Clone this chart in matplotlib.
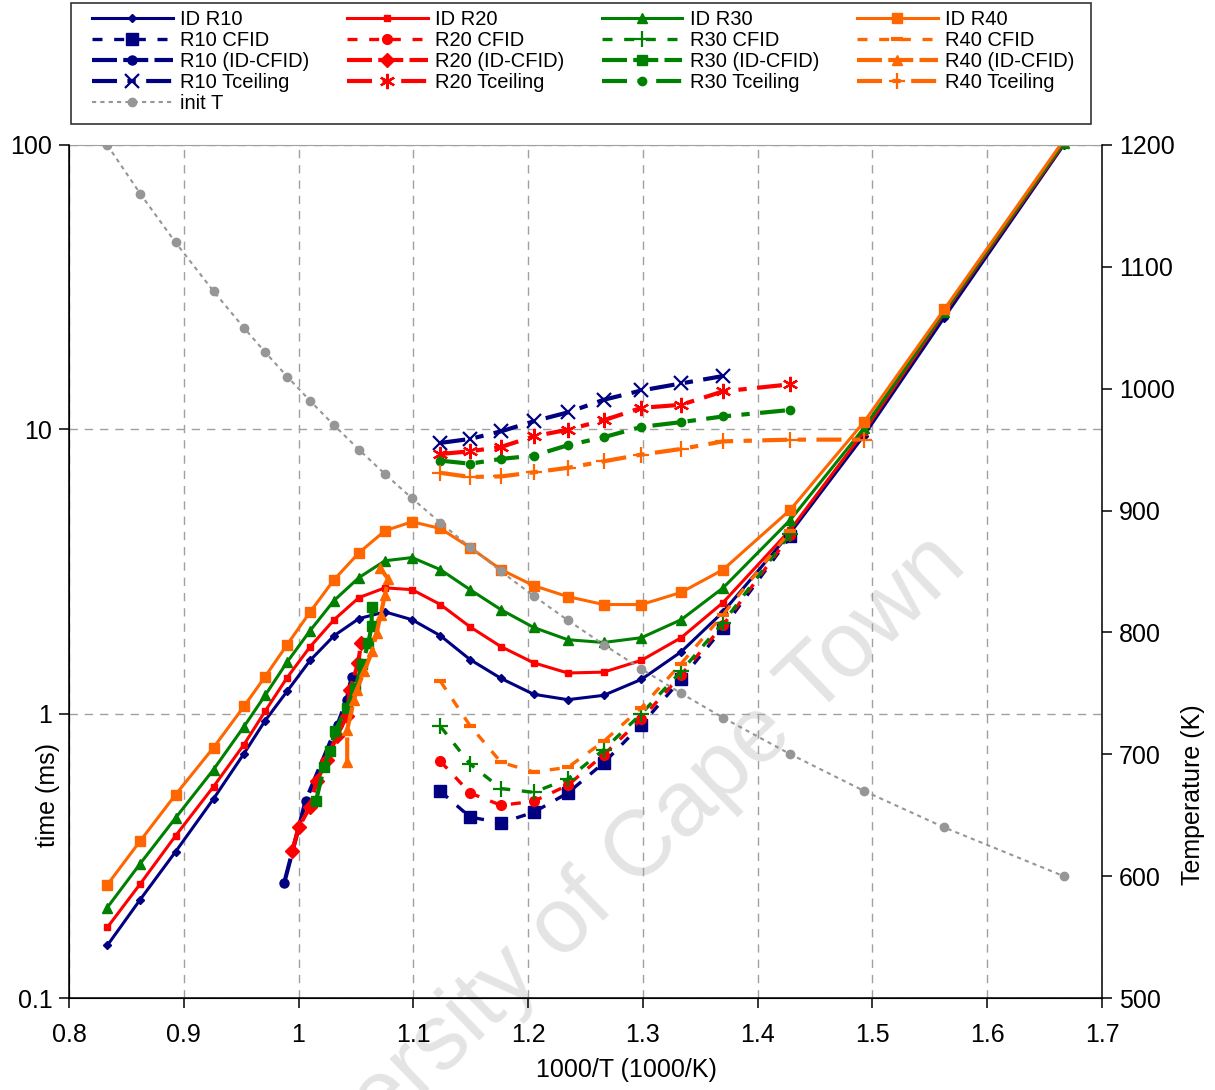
import matplotlib
matplotlib.use('Agg')
import numpy as np
from matplotlib import pyplot as plt
from matplotlib.patches import Rectangle

plt.rcParams['font.family'] = ['Liberation Sans', 'DejaVu Sans']

# temperature grid (K) used for the ID curves and init T
temps = [1200, 1160, 1120, 1080, 1050, 1030, 1010, 990, 970, 950, 930, 910, 890,
         870, 850, 830, 810, 790, 770, 750, 730, 700, 670, 640, 600]

id_r10 = [0.153, 0.222, 0.327, 0.502, 0.723, 0.945, 1.20, 1.54, 1.88, 2.16, 2.28, 2.14, 1.88,
          1.55, 1.33, 1.17, 1.12, 1.16, 1.32, 1.65, 2.28, 4.33, 9.5, 24.7, 100]
id_r20 = [0.177, 0.252, 0.372, 0.554, 0.778, 1.02, 1.34, 1.72, 2.14, 2.56, 2.77, 2.73, 2.42,
          2.02, 1.72, 1.51, 1.39, 1.40, 1.54, 1.85, 2.46, 4.44, 9.8, 25.6, 101]
id_r30 = [0.208, 0.297, 0.43, 0.636, 0.90, 1.16, 1.52, 1.96, 2.50, 3.01, 3.45, 3.54, 3.21,
          2.73, 2.32, 2.01, 1.82, 1.78, 1.85, 2.14, 2.77, 4.81, 10.1, 25.9, 102]
id_r40 = [0.25, 0.357, 0.519, 0.76, 1.06, 1.35, 1.75, 2.28, 2.96, 3.68, 4.40, 4.73, 4.48,
          3.84, 3.21, 2.82, 2.58, 2.42, 2.42, 2.67, 3.21, 5.22, 10.6, 26.4, 104]

# CFID
temps_cfid = [890, 870, 850, 830, 810, 790, 770, 750, 730, 700]
cfid_r10 = [0.533, 0.433, 0.413, 0.45, 0.526, 0.671, 0.915, 1.32, 2.0, 4.2]
cfid_r20 = [0.68, 0.526, 0.476, 0.492, 0.56, 0.717, 0.958, 1.37, 2.05, 4.25]
cfid_r30 = [0.902, 0.665, 0.545, 0.529, 0.589, 0.747, 1.0, 1.41, 2.09, 4.3]
cfid_r40 = [1.30, 0.907, 0.674, 0.624, 0.647, 0.799, 1.05, 1.50, 2.23, 4.4]

# ID-CFID (x given directly as 1000/T)
idc_x_r10 = [0.9875, 1.0062, 1.034, 1.042, 1.0463]
idc_r10 = [0.254, 0.494, 0.915, 1.12, 1.35]
idc_x_r20 = [0.9945, 1.0003, 1.0099, 1.0157, 1.0245, 1.0332, 1.0419, 1.0447, 1.052, 1.0544]
idc_r20 = [0.33, 0.40, 0.47, 0.578, 0.685, 0.832, 0.978, 1.21, 1.51, 1.77]
idc_x_r30 = [1.0152, 1.0221, 1.0274, 1.0317, 1.0419, 1.0491, 1.0555, 1.0607, 1.0637, 1.0637]
idc_r30 = [0.494, 0.647, 0.741, 0.867, 1.05, 1.23, 1.49, 1.77, 2.03, 2.38]
idc_x_r40 = [1.0424, 1.0424, 1.0483, 1.0506, 1.0572, 1.0642, 1.068, 1.0715, 1.0753, 1.0781, 1.0709]
idc_r40 = [0.674, 0.878, 1.12, 1.21, 1.41, 1.66, 1.92, 2.23, 2.62, 2.98, 3.25]

# Tceiling
temps_tc10 = [890, 870, 850, 830, 810, 790, 770, 750, 730]
temps_tc = [890, 870, 850, 830, 810, 790, 770, 750, 730, 700]
temps_tc40 = [890, 870, 850, 830, 810, 790, 770, 750, 730, 700, 670]
tc_r10 = [8.96, 9.25, 9.84, 10.67, 11.47, 12.7, 13.7, 14.5, 15.4]
tc_r20 = [8.19, 8.37, 8.67, 9.45, 9.97, 10.76, 11.9, 12.2, 13.6, 14.4]
tc_r30 = [7.76, 7.57, 7.87, 8.08, 8.79, 9.38, 10.2, 10.6, 11.1, 11.7]
tc_r40 = [7.03, 6.80, 6.83, 7.06, 7.32, 7.72, 8.15, 8.53, 9.07, 9.20, 9.2]


def inv(t):
    return 1000.0 / np.array(t, dtype=float)


NAVY = '#000080'
RED = '#FF0000'
GREEN = '#008000'
ORANGE = '#FF6600'
GRAY = '#969696'

fig = plt.figure(figsize=(12.15, 10.9), dpi=100)
ax = fig.add_axes([69 / 1215, 92 / 1090, 1033 / 1215, 853 / 1090])
ax.set_facecolor('none')

cfid_ls = (0, (3, 3.5))
idc_ls = (0, (6, 1.5))
tc_ls = (0, (6, 2.5, 2, 2.5))

handles = {}
# ID
handles['ID R10'], = ax.plot(inv(temps), id_r10, color=NAVY, lw=2.2, marker='D', ms=4.5)
handles['ID R20'], = ax.plot(inv(temps), id_r20, color=RED, lw=2.2, marker='s', ms=5)
handles['ID R30'], = ax.plot(inv(temps), id_r30, color=GREEN, lw=2.2, marker='^', ms=6.5)
handles['ID R40'], = ax.plot(inv(temps), id_r40, color=ORANGE, lw=2.2, marker='s', ms=7.5)
# CFID
handles['R10 CFID'], = ax.plot(inv(temps_cfid), cfid_r10, color=NAVY, lw=2.4, ls=cfid_ls, marker='s', ms=8.5)
handles['R20 CFID'], = ax.plot(inv(temps_cfid), cfid_r20, color=RED, lw=2.4, ls=cfid_ls, marker='o', ms=7)
handles['R30 CFID'], = ax.plot(inv(temps_cfid), cfid_r30, color=GREEN, lw=2.4, ls=cfid_ls, marker='+', ms=11, mew=1.6)
handles['R40 CFID'], = ax.plot(inv(temps_cfid), cfid_r40, color=ORANGE, lw=2.4, ls=cfid_ls, marker='_', ms=9, mew=3)
# ID-CFID
handles['R10 (ID-CFID)'], = ax.plot(idc_x_r10, idc_r10, color=NAVY, lw=3, ls=idc_ls, marker='o', ms=6.5)
handles['R20 (ID-CFID)'], = ax.plot(idc_x_r20, idc_r20, color=RED, lw=3, ls=idc_ls, marker='D', ms=7.5)
handles['R30 (ID-CFID)'], = ax.plot(idc_x_r30, idc_r30, color=GREEN, lw=3, ls=idc_ls, marker='s', ms=7)
handles['R40 (ID-CFID)'], = ax.plot(idc_x_r40, idc_r40, color=ORANGE, lw=3, ls=idc_ls, marker='^', ms=7.5)
# Tceiling
handles['R10 Tceiling'], = ax.plot(inv(temps_tc10), tc_r10, color=NAVY, lw=3, ls=tc_ls, marker='x', ms=10, mew=1.6)
handles['R20 Tceiling'], = ax.plot(inv(temps_tc), tc_r20, color=RED, lw=3, ls=tc_ls, marker=(6, 2, 0), ms=11, mew=1.6)
handles['R30 Tceiling'], = ax.plot(inv(temps_tc), tc_r30, color=GREEN, lw=3, ls=tc_ls, marker='o', ms=6)
handles['R40 Tceiling'], = ax.plot(inv(temps_tc40), tc_r40, color=ORANGE, lw=3, ls=tc_ls, marker='+', ms=11, mew=1.6)

ax.set_yscale('log')
ax.set_xlim(0.8, 1.7)
ax.set_ylim(0.1, 100)
ax.set_xticks(np.arange(0.8, 1.71, 0.1))
ax.set_xticklabels(['0.8', '0.9', '1', '1.1', '1.2', '1.3', '1.4', '1.5', '1.6', '1.7'])
ax.set_yticks([0.1, 1, 10, 100])
ax.set_yticklabels(['0.1', '1', '10', '100'])
ax.yaxis.set_minor_locator(matplotlib.ticker.NullLocator())
ax.grid(True, which='major', color='#A0A0A0', ls=(0, (6, 5)), lw=1)
ax.tick_params(axis='y', direction='out', length=7, width=1.1, labelsize=18, pad=5)
ax.tick_params(axis='x', direction='out', length=7, width=1.1, labelsize=18, pad=11)
for s in ['left', 'bottom']:
    ax.spines[s].set_linewidth(1.1)
ax.spines['top'].set_color('#A0A0A0')
ax.spines['right'].set_visible(False)

ax.set_xlabel('1000/T (1000/K)', fontsize=18)
ax.xaxis.set_label_coords(0.54, -0.07)
ax.set_ylabel('time (ms)', fontsize=18)
ax.yaxis.set_label_coords(-0.009, 0.238)

# init T on the right-hand axis
ax2 = ax.twinx()
handles['init T'], = ax2.plot(inv(temps), temps, color=GRAY, lw=1.5, ls=(0, (2, 2)), marker='o', ms=6)
ax2.set_ylim(500, 1200)
ax2.set_yticks(np.arange(500, 1201, 100))
ax2.tick_params(axis='y', direction='out', length=7, width=1.1, labelsize=18, pad=5)
ax2.spines['right'].set_linewidth(1.1)
ax2.spines['top'].set_visible(False)
ax2.set_ylabel('Temperature (K)', fontsize=18)
ax2.yaxis.set_label_coords(1.0765, 0.238)

# watermark
fig.text(592 / 1215, 1 - 898 / 1090, 'University of Cape Town', fontsize=67, color='#E4E4E4',
         rotation=44, ha='center', va='center', rotation_mode='anchor', zorder=-1)

order = ['ID R10', 'R10 CFID', 'R10 (ID-CFID)', 'R10 Tceiling', 'init T',
         'ID R20', 'R20 CFID', 'R20 (ID-CFID)', 'R20 Tceiling',
         'ID R30', 'R30 CFID', 'R30 (ID-CFID)', 'R30 Tceiling',
         'ID R40', 'R40 CFID', 'R40 (ID-CFID)', 'R40 Tceiling']
fig.legend([handles[k] for k in order], order, ncol=4, loc='upper left',
           bbox_to_anchor=(92 / 1215, 1 - 124 / 1090, 982 / 1215, 114 / 1090), mode='expand',
           frameon=False, fontsize=14.5, borderpad=0, labelspacing=0.1,
           handlelength=4.0, handletextpad=0.35, borderaxespad=0)
fig.patches.append(Rectangle((71 / 1215, 1 - 124 / 1090), 1020 / 1215, 121 / 1090,
                             transform=fig.transFigure, fill=False, ec='#333333', lw=1.2))

fig.savefig('out.png', dpi=100)
